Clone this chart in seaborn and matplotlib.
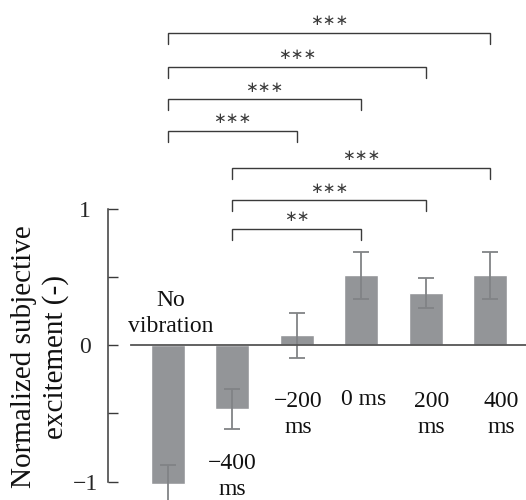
import matplotlib
matplotlib.use("Agg")
import matplotlib.pyplot as plt
import seaborn as sns
import pandas as pd

# Conditions, mean normalized excitement and error (SE)
conditions = ["No vibration", "-400 ms", "-200 ms", "0 ms", "200 ms", "400 ms"]
cond_labels = ["No\nvibration", "\u2212400\nms", "\u2212200\nms", "0 ms", "200\nms", "400\nms"]
means = [-1.02, -0.47, 0.07, 0.51, 0.38, 0.51]
errors = [0.14, 0.145, 0.165, 0.17, 0.11, 0.17]

# Pairwise comparisons (indices into conditions) and significance marks
pairs = [(0, 5), (0, 4), (0, 3), (0, 2), (1, 5), (1, 4), (1, 3)]
marks = ["***", "***", "***", "***", "***", "***", "**"]

y_ticks = [-1, -0.5, 0, 0.5, 1]
y_tick_labels = ["\u22121", "", "0", "", "1"]

sns.set_theme(style="white")
plt.rcParams["font.family"] = ["Liberation Serif", "DejaVu Serif"]

BAR = "#939598"
ERR = "#818386"
INK = "#3a3a3a"

fig = plt.figure(figsize=(5.26, 5.0), dpi=100)
ax = fig.add_axes([0, 0, 1, 1])
ax.set_facecolor("none")

df = pd.DataFrame({"condition": conditions, "value": means})
sns.barplot(data=df, x="condition", y="value", order=conditions,
            color=BAR, saturation=1, width=0.53, errorbar=None, ax=ax, zorder=2)
ax.errorbar(range(len(means)), means, yerr=errors, fmt="none", ecolor=ERR,
            elinewidth=1.3, capsize=6, capthick=1.3, zorder=3)

ax.set_xlim(-2.609, 5.559)
ax.set_ylim(-1.1355, 2.5275)
ax.set_xlabel("")
ax.set_ylabel("")
ax.set_xticks([])

# axes: left spine only between -1 and 1, zero line across the bars
for s in ["top", "right"]:
    ax.spines[s].set_visible(False)
ax.spines["left"].set_position(("data", -0.932))
ax.spines["left"].set_bounds(-1, 1)
ax.spines["left"].set_color(INK)
ax.spines["left"].set_linewidth(1.1)
ax.spines["bottom"].set_position(("data", 0))
ax.spines["bottom"].set_bounds(-0.575, 5.6)
ax.spines["bottom"].set_color("#555555")
ax.spines["bottom"].set_linewidth(1.3)
ax.spines["bottom"].set_zorder(4)

ax.set_yticks(y_ticks)
ax.set_yticklabels(y_tick_labels)
ax.tick_params(axis="y", direction="in", length=7.2, width=1.0, color=INK,
               labelsize=17, pad=16.5, left=True)
for lbl in ax.get_yticklabels():
    lbl.set_ha("center")

# condition labels beside the bars (anchored at the baseline of the last line)
label_pos = [(0.04, 0.095), (0.0, -1.10), (0.02, -0.645), (0.03, -0.44), (0.09, -0.645), (0.17, -0.645)]
for i, (txt, (dx, y)) in enumerate(zip(cond_labels, label_pos)):
    ax.text(i + dx, y, txt, ha="center", va="baseline", fontsize=17,
            linespacing=1.3, color="#111111")

# significance brackets
bracket_y = [2.286, 2.037, 1.802, 1.568, 1.297, 1.062, 0.850]
leg = 0.08
for (a, b), m, y in zip(pairs, marks, bracket_y):
    ax.plot([a, a, b, b], [y - leg, y, y, y - leg], color=INK, lw=1.0,
            solid_joinstyle="miter", zorder=3)
    ax.text((a + b) / 2, y + 0.088, "\u2217" * len(m), ha="center", va="center",
            fontsize=11, family="DejaVu Sans", color=INK)

fig.text(40 / 526, 1 - 357 / 500, "Normalized subjective\nexcitement (-)",
         rotation=90, ha="center", va="center", multialignment="center",
         fontsize=21, linespacing=1.2, color="#111111")

fig.savefig("out.png", dpi=100)
